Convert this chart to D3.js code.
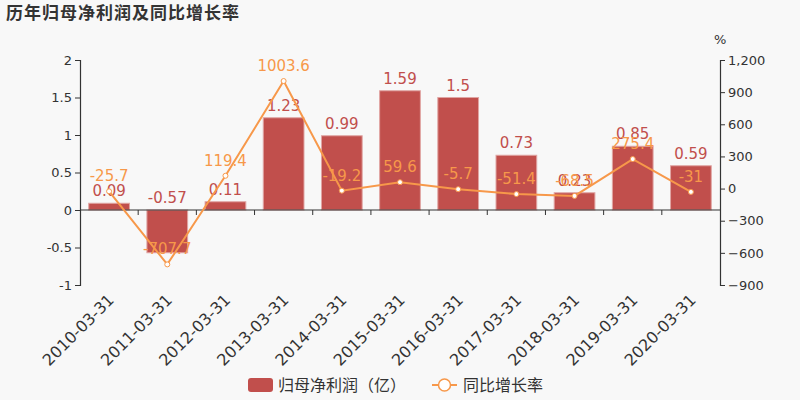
<!DOCTYPE html>
<html><head><meta charset="utf-8">
<script src="https://cdn.jsdelivr.net/npm/d3@7"></script>
<style>body{margin:0;background:#f8f8f8;}svg{display:block;font-family:"DejaVu Sans","Noto Sans CJK SC",sans-serif;}</style>
</head><body>
<svg id="c" width="800" height="400"></svg>
<script>
const categories = ["2010-03-31","2011-03-31","2012-03-31","2013-03-31","2014-03-31","2015-03-31","2016-03-31","2017-03-31","2018-03-31","2019-03-31","2020-03-31"];
const profit = [0.09,-0.57,0.11,1.23,0.99,1.59,1.5,0.73,0.23,0.85,0.59];
const growth = [-25.7,-707.7,119.4,1003.6,-19.2,59.6,-5.7,-51.4,-68.5,275.4,-31];
const leftTicks = [-1,-0.5,0,0.5,1,1.5,2];
const rightTicks = [-900,-600,-300,0,300,600,900,1200];

const svg = d3.select("#c");
const W=800,H=400, L=80, R=720, T=60, B=285;
const barColor="#c14f4c", lineColor="#f7984a", txt="#333";
svg.append("rect").attr("width",W).attr("height",H).attr("fill","#f8f8f8");

svg.append("text").attr("x",6).attr("y",19).text("历年归母净利润及同比增长率")
  .attr("font-size",17).attr("font-weight","bold").attr("fill",txt)
  .attr("font-family","'Noto Sans CJK SC',sans-serif").attr("letter-spacing","1");

const x = d3.scaleBand().domain(categories).range([L,R]).paddingInner(0.3).paddingOuter(0.15);
const xc = d3.scalePoint().domain(categories).range([L,R]).padding(0.5);
const yL = d3.scaleLinear().domain([-1,2]).range([B,T]);
const yR = d3.scaleLinear().domain([-900,1200]).range([B,T]);

// left axis
const gl = svg.append("g").attr("transform",`translate(${L},0)`)
  .call(d3.axisLeft(yL).tickValues(leftTicks).tickSize(5).tickFormat(d=>d));
gl.select(".domain").attr("stroke",txt).attr("stroke-width",1.2);
gl.selectAll(".tick line").attr("stroke",txt);
gl.selectAll(".tick text").attr("fill",txt).attr("font-size",13).attr("font-family","'DejaVu Sans',sans-serif");

// right axis
const gr = svg.append("g").attr("transform",`translate(${R},0)`)
  .call(d3.axisRight(yR).tickValues(rightTicks).tickSize(5).tickFormat(d3.format(",")));
gr.select(".domain").attr("stroke",txt).attr("stroke-width",1.2);
gr.selectAll(".tick line").attr("stroke",txt);
gr.selectAll(".tick text").attr("fill",txt).attr("font-size",13).attr("font-family","'DejaVu Sans',sans-serif");
svg.append("text").attr("x",714).attr("y",44).text("%").attr("font-size",13).attr("fill",txt);

// bars
svg.append("g").selectAll("rect").data(categories).join("rect")
  .attr("x",d=>x(d)).attr("width",x.bandwidth())
  .attr("y",(d,i)=>yL(Math.max(0,profit[i])))
  .attr("height",(d,i)=>Math.abs(yL(profit[i])-yL(0)))
  .attr("fill",barColor).attr("stroke","#e0a5a3").attr("stroke-width",1);

// x axis on zero line
const gx = svg.append("g").attr("transform",`translate(0,${yL(0)})`);
gx.append("line").attr("x1",L).attr("x2",R).attr("stroke",txt).attr("stroke-width",1.2);
const bounds = categories.map((d,i)=>L+(R-L)/categories.length*(i+1)).slice(0,-1);
gx.selectAll("line.t").data(bounds).join("line").attr("class","t")
  .attr("x1",d=>d).attr("x2",d=>d).attr("y1",0).attr("y2",5).attr("stroke",txt);
// x labels at bottom
svg.append("g").selectAll("text").data(categories).join("text")
  .attr("transform",d=>`translate(${xc(d)+2},${B+12}) rotate(-45)`)
  .attr("text-anchor","end").attr("dy","0.35em")
  .attr("font-size",16).attr("fill",txt).text(d=>d);

// bar labels
svg.append("g").selectAll("text").data(categories).join("text")
  .attr("x",d=>xc(d)).attr("y",(d,i)=>yL(Math.max(0,profit[i]))-7)
  .attr("text-anchor","middle").attr("font-size",15).attr("fill",barColor)
  .text((d,i)=>profit[i]);

// line
const line = d3.line().x((d,i)=>xc(categories[i])).y(d=>yR(d));
svg.append("path").datum(growth).attr("d",line).attr("fill","none")
  .attr("stroke",lineColor).attr("stroke-width",2);
svg.append("g").selectAll("circle").data(growth).join("circle")
  .attr("cx",(d,i)=>xc(categories[i])).attr("cy",d=>yR(d)).attr("r",2.5)
  .attr("fill","#fff").attr("stroke",lineColor).attr("stroke-width",1);
svg.append("g").selectAll("text").data(growth).join("text")
  .attr("x",(d,i)=>xc(categories[i])).attr("y",d=>yR(d)-10)
  .attr("text-anchor","middle").attr("font-size",15).attr("fill",lineColor)
  .text(d=>d);

// legend
const lg = svg.append("g");
lg.append("rect").attr("x",248).attr("y",378).attr("width",25).attr("height",14).attr("rx",3).attr("fill",barColor);
lg.append("text").attr("x",278).attr("y",391).text("归母净利润（亿）").attr("font-size",16).attr("fill",txt)
  .attr("font-family","'Noto Sans CJK SC',sans-serif");
lg.append("line").attr("x1",432).attr("x2",457).attr("y1",385).attr("y2",385).attr("stroke",lineColor).attr("stroke-width",2);
lg.append("circle").attr("cx",444.5).attr("cy",385).attr("r",6).attr("fill","#fff").attr("stroke",lineColor).attr("stroke-width",1.5);
lg.append("text").attr("x",463).attr("y",391).text("同比增长率").attr("font-size",16).attr("fill",txt)
  .attr("font-family","'Noto Sans CJK SC',sans-serif");
</script>
</body></html>
